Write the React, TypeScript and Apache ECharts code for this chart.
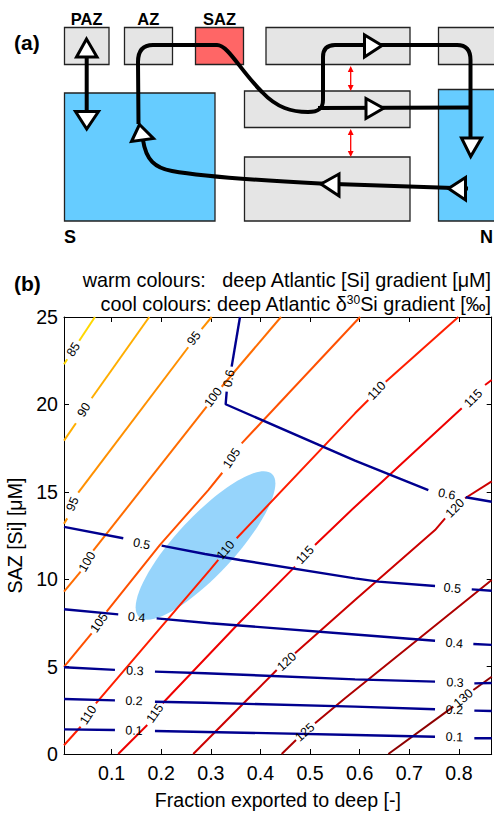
import React, { useEffect, useRef } from 'react';
import * as echarts from 'echarts';

// ---------------- panel (b) data ----------------
const xMin = 0.004;
const xMax = 0.866;
const yMin = 0;
const yMax = 25;

const warmLevels = [85, 90, 95, 100, 105, 110, 115, 120, 125, 130];
const coolLevels = [0.1, 0.2, 0.3, 0.4, 0.5, 0.6];

// each contour: polylines [x, y]; the label k sits in the gap between polyline k and k+1
const warm85 = [
  [[0.004, 22.3], [0.0105, 22.58]],
  [[0.0347, 23.64], [0.0663, 25]],
];
const warm85Labels = [[0.023, 23.14]];

const warm90 = [
  [[0.004, 17.93], [0.028, 18.92]],
  [[0.0597, 20.35], [0.1758, 25]],
];
const warm90Labels = [[0.0442, 19.68]];

const warm95 = [
  [[0.004, 13.17], [0.0105, 13.48]],
  [[0.0327, 14.95], [0.2544, 23.27]],
  [[0.2814, 24.3], [0.3016, 25]],
];
const warm95Labels = [[0.0214, 14.3], [0.266, 23.78]];

const warm100 = [
  [[0.004, 9.29], [0.0375, 10.43]],
  [[0.0629, 11.63], [0.2915, 19.87]],
  [[0.3218, 21.01], [0.4413, 25]],
];
const warm100Labels = [[0.0508, 11.0], [0.3048, 20.41]];

const warm105 = [
  [[0.004, 4.99], [0.0597, 6.9]],
  [[0.0899, 8.14], [0.1974, 11.96], [0.2948, 15.1], [0.323, 16.09]],
  [[0.3621, 17.77], [0.6006, 25]],
];
const warm105Labels = [[0.075, 7.51], [0.3419, 16.92]];

const warm110 = [
  [[0.004, 0.5], [0.0375, 1.56]],
  [[0.0683, 2.9], [0.2982, 10.53], [0.3149, 11.1]],
  [[0.352, 12.34], [0.5905, 19.49], [0.6173, 20.25]],
  [[0.6524, 21.3], [0.7988, 25]],
];
const warm110Labels = [[0.053, 2.23], [0.3298, 11.67], [0.6343, 20.78]];

const warm115 = [
  [[0.1133, 0], [0.1718, 1.66]],
  [[0.2028, 2.9], [0.3587, 7.55], [0.4696, 10.72]],
  [[0.5099, 11.96], [0.5905, 14.15], [0.8056, 19.78]],
  [[0.8526, 21.11], [0.866, 21.4]],
];
const warm115Labels = [[0.1873, 2.33], [0.4897, 11.38], [0.829, 20.35]];

const warm120 = [
  [[0.2645, 0], [0.4327, 4.81]],
  [[0.4696, 5.76], [0.5905, 8.81], [0.7518, 12.81], [0.772, 13.48]],
  [[0.8123, 14.63], [0.866, 15.6]],
];
const warm120Labels = [[0.4528, 5.28], [0.7921, 14.06]];

const warm125 = [
  [[0.4427, 0], [0.4716, 0.8]],
  [[0.5099, 1.76], [0.5704, 3.19], [0.866, 9.95]],
];
const warm125Labels = [[0.4897, 1.24]];

const warm130 = [
  [[0.6577, 0], [0.7887, 2.71]],
  [[0.829, 3.66], [0.866, 4.42]],
];
const warm130Labels = [[0.8089, 3.19]];

const cool01 = [
  [[0.004, 1.41], [0.1067, 1.37]],
  [[0.1873, 1.32], [0.5905, 1.09], [0.7518, 0.99]],
  [[0.831, 0.9], [0.866, 0.9]],
];
const cool01Labels = [[0.145, 1.33], [0.7907, 0.96]];

const cool02 = [
  [[0.004, 3.15], [0.1067, 3.07]],
  [[0.1873, 2.99], [0.2881, 2.93], [0.5905, 2.71], [0.7518, 2.56]],
  [[0.831, 2.48], [0.866, 2.46]],
];
const cool02Labels = [[0.145, 3.03], [0.7907, 2.52]];

const cool03 = [
  [[0.004, 4.96], [0.1067, 4.81]],
  [[0.1873, 4.71], [0.2881, 4.62], [0.5905, 4.27], [0.7518, 4.14]],
  [[0.831, 4.04], [0.866, 4.06]],
];
const cool03Labels = [[0.147, 4.75], [0.7921, 4.08]];

const cool04 = [
  [[0.004, 8.28], [0.1133, 7.99]],
  [[0.1907, 7.76], [0.2982, 7.48], [0.5905, 6.84], [0.7518, 6.48]],
  [[0.829, 6.29], [0.866, 6.24]],
];
const cool04Labels = [[0.1504, 7.82], [0.7907, 6.33]];

const cool05 = [
  [[0.004, 12.99], [0.1234, 12.34]],
  [[0.2008, 11.92], [0.2881, 11.44], [0.3587, 11.1], [0.5905, 10.05], [0.6375, 9.86], [0.7518, 9.61]],
  [[0.8258, 9.42], [0.866, 9.34]],
];
const cool05Labels = [[0.1605, 12.01], [0.7867, 9.48]];

const cool06 = [
  [[0.3587, 25], [0.3419, 22.16]],
  [[0.3319, 20.73], [0.3298, 20.01], [0.5905, 16.78], [0.7383, 15.1]],
  [[0.8137, 14.69], [0.866, 14.43]],
];
const cool06Labels = [[0.3365, 21.49], [0.7754, 14.86]];

// observational estimate (shaded ellipse): centre, end of the major axis, minor/major ratio
const obsCentre = [0.2892, 11.93];
const obsTip = [0.4232, 16.02];
const obsRatio = 0.3;

// ---------------- styles ----------------
const FONT = '"Liberation Sans", Arial, Helvetica, sans-serif';
const warmColors = ['#ffd800', '#ffae00', '#ff9000', '#ff6c00', '#ff5000', '#ff1e00', '#ee0000', '#cc0000', '#ae0000', '#8e0000'];
const coolColor = '#00008f';
const ellipseColor = '#96d4fb';
const GRAY = '#e5e5e5';
const BLUE = '#66ccff';
const SAZRED = '#ff6666';

const warmContours = [warm85, warm90, warm95, warm100, warm105, warm110, warm115, warm120, warm125, warm130];
const warmLabelSets = [warm85Labels, warm90Labels, warm95Labels, warm100Labels, warm105Labels, warm110Labels, warm115Labels, warm120Labels, warm125Labels, warm130Labels];
const coolContours = [cool01, cool02, cool03, cool04, cool05, cool06];
const coolLabelSets = [cool01Labels, cool02Labels, cool03Labels, cool04Labels, cool05Labels, cool06Labels];

function buildOption() {
  const series: any[] = [];

  series.push({
    type: 'custom',
    coordinateSystem: 'cartesian2d',
    silent: true,
    z: 1,
    encode: { x: 0, y: 1 },
    data: [[obsCentre[0], obsCentre[1], obsTip[0], obsTip[1]]],
    renderItem: (_p: any, api: any) => {
      const c = api.coord([api.value(0), api.value(1)]);
      const t = api.coord([api.value(2), api.value(3)]);
      const a = Math.hypot(t[0] - c[0], t[1] - c[1]);
      const ang = Math.atan2(-(t[1] - c[1]), t[0] - c[0]);
      return {
        type: 'ellipse',
        x: c[0],
        y: c[1],
        rotation: ang,
        shape: { cx: 0, cy: 0, rx: a, ry: a * obsRatio },
        style: { fill: ellipseColor, stroke: null },
      };
    },
  });

  const labelItems: number[][] = [];
  const labelTexts: string[] = [];

  warmContours.forEach((segs, i) => {
    segs.forEach((seg) => {
      series.push({
        type: 'line',
        name: String(warmLevels[i]),
        data: seg,
        symbol: 'none',
        showSymbol: false,
        silent: true,
        z: 3,
        lineStyle: { color: warmColors[i], width: 2 },
      });
    });
    warmLabelSets[i].forEach((pt, k) => {
      const a = segs[k][segs[k].length - 1];
      const b = segs[k + 1][0];
      labelItems.push([pt[0], pt[1], a[0], a[1], b[0], b[1]]);
      labelTexts.push(String(warmLevels[i]));
    });
  });

  coolContours.forEach((segs, i) => {
    segs.forEach((seg) => {
      series.push({
        type: 'line',
        name: coolLevels[i].toFixed(1),
        data: seg,
        symbol: 'none',
        showSymbol: false,
        silent: true,
        z: 4,
        lineStyle: { color: coolColor, width: 2.4 },
      });
    });
    coolLabelSets[i].forEach((pt, k) => {
      const a = segs[k][segs[k].length - 1];
      const b = segs[k + 1][0];
      labelItems.push([pt[0], pt[1], a[0], a[1], b[0], b[1]]);
      labelTexts.push(coolLevels[i].toFixed(1));
    });
  });

  series.push({
    type: 'custom',
    coordinateSystem: 'cartesian2d',
    silent: true,
    z: 6,
    encode: { x: 0, y: 1 },
    data: labelItems,
    renderItem: (params: any, api: any) => {
      const p = api.coord([api.value(0), api.value(1)]);
      const a = api.coord([api.value(2), api.value(3)]);
      const b = api.coord([api.value(4), api.value(5)]);
      let ang = Math.atan2(-(b[1] - a[1]), b[0] - a[0]);
      if (ang > Math.PI / 2) ang -= Math.PI;
      if (ang < -Math.PI / 2) ang += Math.PI;
      return {
        type: 'text',
        x: p[0],
        y: p[1],
        rotation: ang,
        style: {
          text: labelTexts[params.dataIndex],
          fontSize: 12.5,
          fontFamily: FONT,
          fill: '#000',
          align: 'center',
          verticalAlign: 'middle',
        },
      };
    },
  });

  const tickFmt = (v: number) => {
    const r = Math.round(v * 10) / 10;
    return Math.abs(v - r) < 1e-6 && r > 0 ? r.toFixed(1) : '';
  };

  const axisLine = { show: true, onZero: false, lineStyle: { color: '#000', width: 1 } };
  const axisTick = { show: true, inside: true, length: 5, lineStyle: { color: '#000', width: 1 } };

  // ---------------- panel (a) schematic ----------------
  const boxes = [
    { x: 64.5, y: 27.5, w: 44.5, h: 37, fill: GRAY },
    { x: 124.5, y: 27.5, w: 48, h: 37, fill: GRAY },
    { x: 195.5, y: 27.5, w: 48, h: 37, fill: SAZRED },
    { x: 266, y: 27.5, w: 144, h: 37, fill: GRAY },
    { x: 438.5, y: 27.5, w: 60, h: 37, fill: GRAY },
    { x: 64.5, y: 93, w: 150.5, h: 128, fill: BLUE },
    { x: 244.5, y: 91, w: 165.5, h: 36.5, fill: GRAY },
    { x: 244.5, y: 157, w: 165.5, h: 64, fill: GRAY },
    { x: 438.5, y: 89.5, w: 60, h: 131.5, fill: BLUE },
  ];
  const triangles = [
    [[86.5, 39], [76.5, 57], [97, 57]],
    [[75.5, 111.5], [98.5, 111.5], [86.7, 129]],
    [[139.5, 124.5], [131.5, 141.5], [153.5, 138.5]],
    [[364.5, 35], [364.5, 57], [382, 45.5]],
    [[366, 98.5], [366, 118.5], [383.5, 108.3]],
    [[461.5, 138], [481.5, 138], [470.7, 156.5]],
    [[448.5, 188.5], [465.5, 177.5], [465.5, 200]],
    [[321, 184], [339, 174], [339, 196]],
  ];

  const elements: any[] = [];
  boxes.forEach((b) =>
    elements.push({
      type: 'rect',
      silent: true,
      shape: { x: b.x, y: b.y, width: b.w, height: b.h },
      style: { fill: b.fill, stroke: '#222', lineWidth: 1.3 },
    })
  );
  elements.push({ type: 'line', silent: true, shape: { x1: 86.7, y1: 52, x2: 86.7, y2: 114 }, style: { stroke: '#000', lineWidth: 4 } });
  ['flowMain', 'flowMid', 'flowReturn'].forEach((n) =>
    elements.push({ type: n, silent: true, x: 0, y: 0, style: { fill: null, stroke: '#000', lineWidth: 4, lineJoin: 'round' } })
  );
  triangles.forEach((pts) =>
    elements.push({ type: 'polygon', silent: true, shape: { points: pts }, style: { fill: '#fff', stroke: '#000', lineWidth: 3, lineJoin: 'miter' } })
  );
  // red exchange arrows
  [[69, 88], [132, 154]].forEach(([y1, y2]) => {
    elements.push({ type: 'line', silent: true, shape: { x1: 350.7, y1: y1, x2: 350.7, y2: y2 }, style: { stroke: '#ff0000', lineWidth: 1.3 } });
    elements.push({ type: 'polygon', silent: true, shape: { points: [[350.7, y1 - 3], [347.8, y1 + 3], [353.6, y1 + 3]] }, style: { fill: '#ff0000' } });
    elements.push({ type: 'polygon', silent: true, shape: { points: [[350.7, y2 + 3], [347.8, y2 - 3], [353.6, y2 - 3]] }, style: { fill: '#ff0000' } });
  });
  const txt = (text: string, x: number, y: number, size: number, align: string, weight = 'bold') => ({
    type: 'text',
    silent: true,
    x,
    y,
    style: { text, fill: '#000', fontSize: size, fontWeight: weight, fontFamily: FONT, align, verticalAlign: 'middle' },
  });
  elements.push(txt('PAZ', 86.7, 18.5, 16.5, 'center'));
  elements.push(txt('AZ', 148.3, 18.5, 16.5, 'center'));
  elements.push(txt('SAZ', 219.5, 18.5, 16.5, 'center'));
  elements.push(txt('(a)', 14, 42, 21, 'left'));
  elements.push(txt('S', 64, 237, 18, 'left'));
  elements.push(txt('N', 480, 237, 18, 'left'));
  elements.push(txt('(b)', 14, 283.5, 21, 'left'));
  elements.push(txt('warm colours:   deep Atlantic [Si] gradient [\u03bcM]', 491, 279.5, 19.8, 'right', 'normal'));
  elements.push({
    type: 'text',
    silent: true,
    x: 491,
    y: 303.5,
    style: {
      text: '{n|cool colours: deep Atlantic \u03b4}{s|30}{n|Si gradient [\u2030]}',
      align: 'right',
      verticalAlign: 'middle',
      rich: {
        n: { fontSize: 19.8, fontFamily: FONT, fill: '#000', color: '#000' },
        s: { fontSize: 12, fontFamily: FONT, fill: '#000', color: '#000', verticalAlign: 'top' },
      },
    },
  });

  return {
    animation: false,
    backgroundColor: '#fff',
    grid: { left: 64, right: 2.3, top: 317, bottom: 60, containLabel: false, outerBoundsMode: 'none' },
    xAxis: [
      {
        type: 'value',
        min: xMin,
        max: xMax,
        splitNumber: 8,
        position: 'bottom',
        axisLine,
        axisTick,
        splitLine: { show: false },
        axisLabel: { show: true, margin: 9, color: '#000', fontSize: 19.6, fontFamily: FONT, formatter: tickFmt },
        name: 'Fraction exported to deep [-]',
        nameLocation: 'middle',
        nameGap: 36,
        nameTextStyle: { color: '#000', fontSize: 19.6, fontFamily: FONT },
      },
      {
        type: 'value',
        min: xMin,
        max: xMax,
        splitNumber: 8,
        position: 'top',
        axisLine,
        axisTick,
        splitLine: { show: false },
        axisLabel: { show: false },
      },
    ],
    yAxis: [
      {
        type: 'value',
        min: yMin,
        max: yMax,
        interval: 5,
        position: 'left',
        axisLine,
        axisTick,
        splitLine: { show: false },
        axisLabel: { show: true, margin: 6, color: '#000', fontSize: 19.6, fontFamily: FONT },
        name: 'SAZ [Si] [\u03bcM]',
        nameLocation: 'middle',
        nameRotate: 90,
        nameGap: 36,
        nameTextStyle: { color: '#000', fontSize: 19.6, fontFamily: FONT },
      },
      {
        type: 'value',
        min: yMin,
        max: yMax,
        interval: 5,
        position: 'right',
        axisLine,
        axisTick,
        splitLine: { show: false },
        axisLabel: { show: false },
      },
    ],
    graphic: { elements },
    series,
  };
}

const PATH_MAIN =
  'M 138.5 124 L 138 62 Q 138 45 153 45 L 217 45 C 228 45 240 70 262 92 C 277 108 292 112 308 112 C 318 112 323 109 323 100 L 323 57 Q 323 45 335 45 L 457 45 Q 470.5 45 470.5 60 L 470.5 148';
const PATH_MID = 'M 318 108 L 470.5 107.5';
const PATH_RETURN = 'M 468 188.5 L 320 183.5 C 270 181 205 177 172 171 C 155 168 146 160 143 140';

export default function App() {
  const ref = useRef<HTMLDivElement>(null);
  useEffect(() => {
    if (!ref.current) return;
    (echarts as any).graphic.registerShape('flowMain', (echarts as any).graphic.extendPath(PATH_MAIN, {}));
    (echarts as any).graphic.registerShape('flowMid', (echarts as any).graphic.extendPath(PATH_MID, {}));
    (echarts as any).graphic.registerShape('flowReturn', (echarts as any).graphic.extendPath(PATH_RETURN, {}));
    const chart = echarts.init(ref.current, null, { renderer: 'svg' });
    chart.setOption(buildOption() as any);
    return () => chart.dispose();
  }, []);
  return <div ref={ref} style={{ position: 'fixed', left: 0, top: 0, width: 494, height: 814, background: '#fff' }} />;
}
